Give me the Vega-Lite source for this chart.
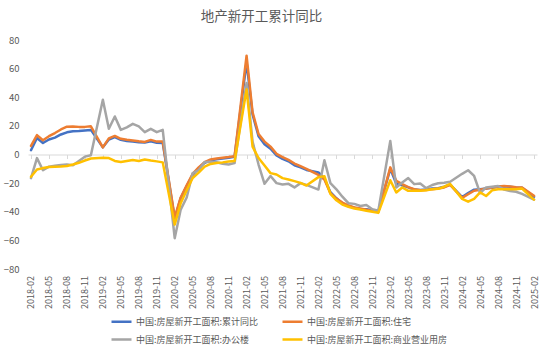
{
  "$schema": "https://vega.github.io/schema/vega-lite/v6.json",
  "width": 509,
  "height": 229,
  "autosize": "none",
  "padding": {"left": 28, "top": 40, "right": 13, "bottom": 83},
  "background": "white",
  "title": {"text": "地产新开工累计同比", "fontSize": 13.5, "font": "Noto Sans CJK SC", "fontWeight": "normal", "color": "#595959", "anchor": "middle", "dx": -21, "offset": 12},
  "data": {"values": [
    {"month": "2018-02", "累计同比": 3, "住宅": 6, "办公楼": -16.5, "商业营业用房": -15.5},
    {"month": "2018-03", "累计同比": 11.5, "住宅": 13.5, "办公楼": -2.5, "商业营业用房": -10.5},
    {"month": "2018-04", "累计同比": 8, "住宅": 10, "办公楼": -11, "商业营业用房": -9.5},
    {"month": "2018-05", "累计同比": 10.5, "住宅": 12.8, "办公楼": -8.5, "商业营业用房": -8.8},
    {"month": "2018-06", "累计同比": 11.8, "住宅": 15, "办公楼": -7.8, "商业营业用房": -8.5},
    {"month": "2018-07", "累计同比": 14, "住宅": 17.5, "办公楼": -7.3, "商业营业用房": -8.3},
    {"month": "2018-08", "累计同比": 15.5, "住宅": 19.4, "办公楼": -7, "商业营业用房": -8},
    {"month": "2018-09", "累计同比": 16.3, "住宅": 19.6, "办公楼": -7.5, "商业营业用房": -7},
    {"month": "2018-10", "累计同比": 16.4, "住宅": 19.3, "办公楼": -4.5, "商业营业用房": -5.8},
    {"month": "2018-11", "累计同比": 16.8, "住宅": 19.3, "办公楼": -1.5, "商业营业用房": -4.2},
    {"month": "2018-12", "累计同比": 17.2, "住宅": 19.7, "办公楼": -0.5, "商业营业用房": -2.8},
    {"month": "2019-02", "累计同比": 5, "住宅": 5, "办公楼": 38.2, "商业营业用房": -2.3},
    {"month": "2019-03", "累计同比": 10.5, "住宅": 11.3, "办公楼": 18, "商业营业用房": -2.5},
    {"month": "2019-04", "累计同比": 12.2, "住宅": 13, "办公楼": 26.6, "商业营业用房": -4.5},
    {"month": "2019-05", "累计同比": 10.3, "住宅": 11, "办公楼": 17.2, "商业营业用房": -5.3},
    {"month": "2019-06", "累计同比": 9.5, "住宅": 10.3, "办公楼": 19, "商业营业用房": -4.5},
    {"month": "2019-07", "累计同比": 9, "住宅": 9.8, "办公楼": 21.4, "商业营业用房": -3.8},
    {"month": "2019-08", "累计同比": 8.6, "住宅": 9.2, "办公楼": 19.6, "商业营业用房": -4.5},
    {"month": "2019-09", "累计同比": 8.3, "住宅": 8.8, "办公楼": 15.6, "商业营业用房": -3.5},
    {"month": "2019-10", "累计同比": 9.2, "住宅": 10.2, "办公楼": 17.9, "商业营业用房": -4.2},
    {"month": "2019-11", "累计同比": 8.2, "住宅": 9, "办公楼": 15.6, "商业营业用房": -4.8},
    {"month": "2019-12", "累计同比": 8.1, "住宅": 9, "办公楼": 17.2, "商业营业用房": -5.5},
    {"month": "2020-02", "累计同比": -44.9, "住宅": -44, "办公楼": -58.5, "商业营业用房": -49},
    {"month": "2020-03", "累计同比": -30.5, "住宅": -30, "办公楼": -38.5, "商业营业用房": -34},
    {"month": "2020-04", "累计同比": -22, "住宅": -21.5, "办公楼": -30, "商业营业用房": -25},
    {"month": "2020-05", "累计同比": -14.3, "住宅": -13.5, "办公楼": -13, "商业营业用房": -16.4},
    {"month": "2020-06", "累计同比": -9.5, "住宅": -9, "办公楼": -11, "商业营业用房": -12.7},
    {"month": "2020-07", "累计同比": -5.8, "住宅": -5.3, "办公楼": -5.2, "商业营业用房": -8.5},
    {"month": "2020-08", "累计同比": -4, "住宅": -3.5, "办公楼": -5, "商业营业用房": -6.6},
    {"month": "2020-09", "累计同比": -3.3, "住宅": -2.8, "办公楼": -5.4, "商业营业用房": -6},
    {"month": "2020-10", "累计同比": -2.8, "住宅": -2.3, "办公楼": -6.5, "商业营业用房": -5.5},
    {"month": "2020-11", "累计同比": -2.2, "住宅": -1.8, "办公楼": -7, "商业营业用房": -4.9},
    {"month": "2020-12", "累计同比": -1.5, "住宅": -1.2, "办公楼": -6, "商业营业用房": -4.5},
    {"month": "2021-02", "累计同比": 64.5, "住宅": 69, "办公楼": 50, "商业营业用房": 45.5},
    {"month": "2021-03", "累计同比": 28, "住宅": 29.5, "办公楼": 9, "商业营业用房": 5.5},
    {"month": "2021-04", "累计同比": 12.8, "住宅": 14.3, "办公楼": -7, "商业营业用房": -2.5},
    {"month": "2021-05", "累计同比": 7.2, "住宅": 9, "办公楼": -20.5, "商业营业用房": -7.7},
    {"month": "2021-06", "累计同比": 4, "住宅": 5.5, "办公楼": -15, "商业营业用房": -13},
    {"month": "2021-07", "累计同比": -0.7, "住宅": 0.5, "办公楼": -20, "商业营业用房": -14},
    {"month": "2021-08", "累计同比": -3, "住宅": -1.8, "办公楼": -21, "商业营业用房": -16.5},
    {"month": "2021-09", "累计同比": -4.7, "住宅": -3.8, "办公楼": -20.5, "商业营业用房": -17.5},
    {"month": "2021-10", "累计同比": -7.5, "住宅": -6.3, "办公楼": -23, "商业营业用房": -18.6},
    {"month": "2021-11", "累计同比": -9, "住宅": -8.2, "办公楼": -20, "商业营业用房": -19.8},
    {"month": "2021-12", "累计同比": -10.8, "住宅": -10, "办公楼": -21.2, "商业营业用房": -21.7},
    {"month": "2022-02", "累计同比": -12.5, "住宅": -14.3, "办公楼": -24.5, "商业营业用房": -15.8},
    {"month": "2022-03", "累计同比": -16.8, "住宅": -17.5, "办公楼": -4, "商业营业用房": -15.2},
    {"month": "2022-04", "累计同比": -26.3, "住宅": -27, "办公楼": -20, "商业营业用房": -27.5},
    {"month": "2022-05", "累计同比": -30.6, "住宅": -30.8, "办公楼": -24.3, "商业营业用房": -32},
    {"month": "2022-06", "累计同比": -34.2, "住宅": -33.6, "办公楼": -29.5, "商业营业用房": -35},
    {"month": "2022-07", "累计同比": -36, "住宅": -35.5, "办公楼": -34, "商业营业用房": -36.5},
    {"month": "2022-08", "累计同比": -37.2, "住宅": -37, "办公楼": -34.5, "商业营业用房": -37.8},
    {"month": "2022-09", "累计同比": -38, "住宅": -37.8, "办公楼": -36, "商业营业用房": -38.5},
    {"month": "2022-10", "累计同比": -38.2, "住宅": -38.6, "办公楼": -35.3, "商业营业用房": -39.3},
    {"month": "2022-11", "累计同比": -39, "住宅": -39.4, "办公楼": -38.3, "商业营业用房": -40},
    {"month": "2022-12", "累计同比": -39.8, "住宅": -40.2, "办公楼": -39.3, "商业营业用房": -40.8},
    {"month": "2023-02", "累计同比": -10, "住宅": -9, "办公楼": 9.5, "商业营业用房": -18},
    {"month": "2023-03", "累计同比": -20.5, "住宅": -18.4, "办公楼": -23, "商业营业用房": -26.5},
    {"month": "2023-04", "累计同比": -21.5, "住宅": -20.7, "办公楼": -19.6, "商业营业用房": -23},
    {"month": "2023-05", "累计同比": -23, "住宅": -22.8, "办公楼": -16.5, "商业营业用房": -25.4},
    {"month": "2023-06", "累计同比": -24.5, "住宅": -24.2, "办公楼": -20.7, "商业营业用房": -25.4},
    {"month": "2023-07", "累计同比": -24.8, "住宅": -25, "办公楼": -20.3, "商业营业用房": -25.4},
    {"month": "2023-08", "累计同比": -24.5, "住宅": -24.8, "办公楼": -23.5, "商业营业用房": -25},
    {"month": "2023-09", "累计同比": -23.8, "住宅": -24.2, "办公楼": -21.3, "商业营业用房": -24.3},
    {"month": "2023-10", "累计同比": -23.5, "住宅": -23.8, "办公楼": -20.1, "商业营业用房": -24},
    {"month": "2023-11", "累计同比": -22.5, "住宅": -23, "办公楼": -19.7, "商业营业用房": -22.5},
    {"month": "2023-12", "累计同比": -21, "住宅": -21.2, "办公楼": -19, "商业营业用房": -20.6},
    {"month": "2024-02", "累计同比": -29.7, "住宅": -30.3, "办公楼": -13.5, "商业营业用房": -31},
    {"month": "2024-03", "累计同比": -27, "住宅": -27.8, "办公楼": -11, "商业营业用房": -33},
    {"month": "2024-04", "累计同比": -24.6, "住宅": -25.3, "办公楼": -15, "商业营业用房": -31},
    {"month": "2024-05", "累计同比": -24.2, "住宅": -24.6, "办公楼": -27, "商业营业用房": -26.5},
    {"month": "2024-06", "累计同比": -23.7, "住宅": -23.8, "办公楼": -23, "商业营业用房": -29},
    {"month": "2024-07", "累计同比": -23.2, "住宅": -23, "办公楼": -22.5, "商业营业用房": -25},
    {"month": "2024-08", "累计同比": -22.5, "住宅": -22.3, "办公楼": -22, "商业营业用房": -24.3},
    {"month": "2024-09", "累计同比": -22.2, "住宅": -22, "办公楼": -24.5, "商业营业用房": -24.3},
    {"month": "2024-10", "累计同比": -22.6, "住宅": -22.3, "办公楼": -25.5, "商业营业用房": -24.3},
    {"month": "2024-11", "累计同比": -23, "住宅": -22.8, "办公楼": -26, "商业营业用房": -24.3},
    {"month": "2024-12", "累计同比": -23.2, "住宅": -23, "办公楼": -27.5, "商业营业用房": -23.8},
    {"month": "2025-02", "累计同比": -29.6, "住宅": -28.8, "办公楼": -31.5, "商业营业用房": -31.5}
  ]},
  "transform": [{"fold": ["累计同比", "住宅", "办公楼", "商业营业用房"], "as": ["series", "value"]}],
  "mark": {"type": "line", "strokeWidth": 2.5, "strokeJoin": "round", "strokeCap": "round"},
  "encoding": {
    "x": {
      "field": "month", "type": "ordinal",
      "scale": {"type": "point", "padding": 0.5, "domain": ["2018-02","2018-03","2018-04","2018-05","2018-06","2018-07","2018-08","2018-09","2018-10","2018-11","2018-12","2019-01","2019-02","2019-03","2019-04","2019-05","2019-06","2019-07","2019-08","2019-09","2019-10","2019-11","2019-12","2020-01","2020-02","2020-03","2020-04","2020-05","2020-06","2020-07","2020-08","2020-09","2020-10","2020-11","2020-12","2021-01","2021-02","2021-03","2021-04","2021-05","2021-06","2021-07","2021-08","2021-09","2021-10","2021-11","2021-12","2022-01","2022-02","2022-03","2022-04","2022-05","2022-06","2022-07","2022-08","2022-09","2022-10","2022-11","2022-12","2023-01","2023-02","2023-03","2023-04","2023-05","2023-06","2023-07","2023-08","2023-09","2023-10","2023-11","2023-12","2024-01","2024-02","2024-03","2024-04","2024-05","2024-06","2024-07","2024-08","2024-09","2024-10","2024-11","2024-12","2025-01","2025-02"]},
      "axis": {
        "title": null,
        "values": ["2018-02","2018-05","2018-08","2018-11","2019-02","2019-05","2019-08","2019-11","2020-02","2020-05","2020-08","2020-11","2021-02","2021-05","2021-08","2021-11","2022-02","2022-05","2022-08","2022-11","2023-02","2023-05","2023-08","2023-11","2024-02","2024-05","2024-08","2024-11","2025-02"],
        "offset": -114.5,
        "domainColor": "#D9D9D9", "domainWidth": 1,
        "tickColor": "#D9D9D9", "tickSize": 4,
        "labelAngle": -90, "labelAlign": "right", "labelBaseline": "middle",
        "labelPadding": 117, "labelFontSize": 9, "labelColor": "#595959",
        "labelFont": "Noto Sans CJK SC", "grid": false
      }
    },
    "y": {
      "field": "value", "type": "quantitative",
      "scale": {"domain": [-80, 80], "nice": false, "zero": false},
      "axis": {
        "title": null, "values": [-80, -60, -40, -20, 0, 20, 40, 60, 80],
        "grid": false, "domain": false, "ticks": false,
        "labelPadding": 9, "labelFontSize": 9.5, "labelColor": "#595959", "labelFont": "Noto Sans CJK SC"
      }
    },
    "color": {
      "field": "series", "type": "nominal",
      "scale": {"domain": ["累计同比", "住宅", "办公楼", "商业营业用房"], "range": ["#4472C4", "#ED7D31", "#A5A5A5", "#FFC000"]},
      "legend": {
        "title": null, "orient": "none", "legendX": 82, "legendY": 270,
        "direction": "horizontal", "columns": 2, "columnPadding": 18, "rowPadding": 1,
        "symbolType": "stroke", "symbolSize": 400, "symbolStrokeWidth": 2.5,
        "labelOffset": 3, "labelFontSize": 9, "labelColor": "#595959", "labelFont": "Noto Sans CJK SC", "labelLimit": 0,
        "labelExpr": "'中国:房屋新开工面积:' + datum.label"
      }
    }
  },
  "config": {"view": {"stroke": null}, "font": "Noto Sans CJK SC"}
}
